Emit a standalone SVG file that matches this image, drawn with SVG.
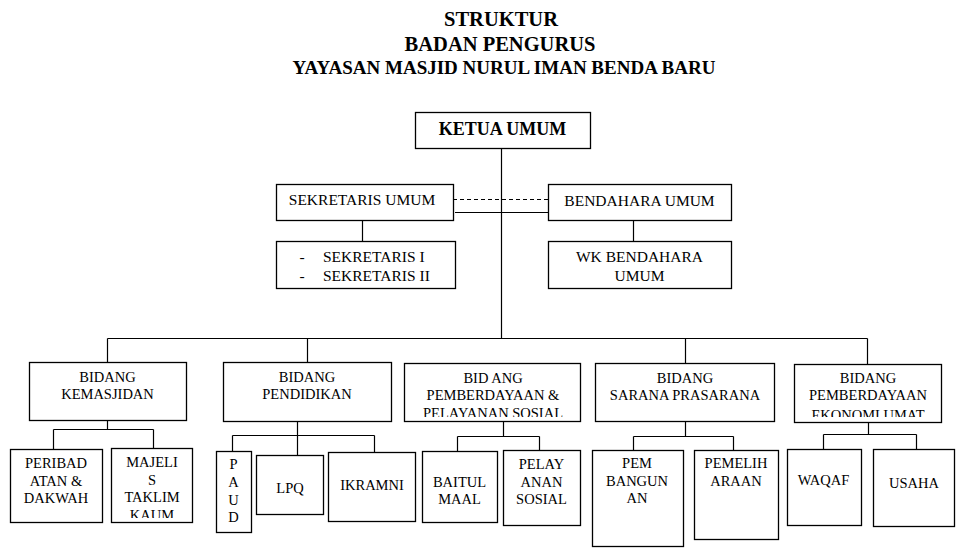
<svg xmlns="http://www.w3.org/2000/svg" width="964" height="553" viewBox="0 0 964 553">
<style>
.box{fill:#fff;stroke:#000;stroke-width:1.3}
.t{font-family:"Liberation Serif","Times New Roman",Times,Tinos,"DejaVu Serif",serif;font-size:14.5px;text-anchor:middle;fill:#000}
.m{font-size:15.5px}
.s{text-anchor:start}
.h{font-family:"Liberation Serif","Times New Roman",Times,Tinos,"DejaVu Serif",serif;font-weight:bold;text-anchor:middle;fill:#000}
.ln{stroke:#000;stroke-width:1.2;fill:none}
.dash{stroke:#000;stroke-width:1;stroke-dasharray:4 3;fill:none}
</style>
<defs>
<clipPath id="c-sos"><rect x="405" y="364" width="174" height="53"/></clipPath>
<clipPath id="c-eko"><rect x="795" y="365" width="145" height="52"/></clipPath>
<clipPath id="c-maj"><rect x="112" y="449" width="79" height="69"/></clipPath>
</defs>
<rect width="964" height="553" fill="#fff"/>
<g id="title">
<text class="h" x="501" y="26" font-size="20.5">STRUKTUR</text>
<text class="h" x="500" y="51" font-size="20.5">BADAN PENGURUS</text>
<text class="h" x="504" y="74" font-size="19">YAYASAN MASJID NURUL IMAN BENDA BARU</text>
</g>
<g id="connectors">
<path class="ln" d="M501.5 148V339M107.5 338.5H867.5M107.5 338.5V362M307.5 338.5V362M685.5 338.5V363M867.5 338.5V364"/>
<path class="dash" d="M453 199.5H548"/>
<path class="ln" d="M455 212.5H548"/>
<path class="ln" d="M362.5 221V241M633.5 221V241"/>
<path class="ln" d="M107.5 420V429.5M53.5 429.5H153.5M53.5 429.5V449M153.5 429.5V448"/>
<path class="ln" d="M297.5 421V455M232.5 435.5H374.5M232.5 435.5V451M374.5 435.5V452"/>
<path class="ln" d="M503.5 421V436.5M457.5 436.5H539.5M457.5 436.5V451M539.5 436.5V450"/>
<path class="ln" d="M685.5 421V436.5M633.5 436.5H733.5M633.5 436.5V450M733.5 436.5V450"/>
<path class="ln" d="M868.5 422V434.5M823.5 434.5H916.5M823.5 434.5V449M916.5 434.5V449"/>
</g>
<g id="ketua">
<rect class="box" x="415.5" y="112.5" width="175" height="36"/>
<text class="h" x="502.5" y="135" font-size="18">KETUA UMUM</text>
</g>
<g id="sekretaris-umum">
<rect class="box" x="276.5" y="184.5" width="177" height="36"/>
<text class="t m" x="362" y="205">SEKRETARIS UMUM</text>
</g>
<g id="bendahara-umum">
<rect class="box" x="548.5" y="184.5" width="183" height="36"/>
<text class="t m" x="639.5" y="206">BENDAHARA UMUM</text>
</g>
<g id="sekretaris">
<rect class="box" x="276.5" y="241.5" width="179" height="47"/>
<text class="t m" x="302" y="262">-</text>
<text class="t m s" x="323" y="262">SEKRETARIS I</text>
<text class="t m" x="302" y="281">-</text>
<text class="t m s" x="323" y="281">SEKRETARIS II</text>
</g>
<g id="wk-bendahara">
<rect class="box" x="548.5" y="241.5" width="183" height="47"/>
<text class="t m" x="639.5" y="262">WK BENDAHARA</text>
<text class="t m" x="639.5" y="281">UMUM</text>
</g>
<g id="kemasjidan">
<rect class="box" x="29.5" y="362.5" width="157" height="58"/>
<text class="t" x="107.5" y="382">BIDANG</text>
<text class="t" x="107.5" y="399">KEMASJIDAN</text>
</g>
<g id="pendidikan">
<rect class="box" x="223.5" y="362.5" width="168" height="59"/>
<text class="t" x="307" y="382">BIDANG</text>
<text class="t" x="307" y="399">PENDIDIKAN</text>
</g>
<g id="sosial">
<rect class="box" x="404.5" y="363.5" width="176" height="58"/>
<g clip-path="url(#c-sos)">
<text class="t" x="493" y="383">BID ANG</text>
<text class="t" x="493" y="400">PEMBERDAYAAN &amp;</text>
<text class="t" x="493" y="418">PELAYANAN SOSIAL</text>
</g>
</g>
<g id="sarana">
<rect class="box" x="595.5" y="363.5" width="179" height="58"/>
<text class="t" x="685" y="383">BIDANG</text>
<text class="t" x="685" y="400">SARANA PRASARANA</text>
</g>
<g id="ekonomi">
<rect class="box" x="794.5" y="364.5" width="147" height="58"/>
<g clip-path="url(#c-eko)">
<text class="t" x="868" y="383">BIDANG</text>
<text class="t" x="868" y="400">PEMBERDAYAAN</text>
<text class="t" x="868" y="420">EKONOMI UMAT</text>
</g>
</g>
<g id="peribadatan">
<rect class="box" x="10.5" y="449.5" width="92" height="73"/>
<text class="t" x="56" y="468">PERIBAD</text>
<text class="t" x="56" y="486">ATAN &amp;</text>
<text class="t" x="56" y="503">DAKWAH</text>
</g>
<g id="majelis">
<rect class="box" x="111.5" y="448.5" width="81" height="74"/>
<g clip-path="url(#c-maj)">
<text class="t" x="152" y="467">MAJELI</text>
<text class="t" x="152" y="485">S</text>
<text class="t" x="152" y="502">TAKLIM</text>
<text class="t" x="152" y="520">KAUM</text>
</g>
</g>
<g id="paud">
<rect class="box" x="216.5" y="451.5" width="35" height="81"/>
<text class="t" x="233.5" y="469">P</text>
<text class="t" x="233.5" y="487">A</text>
<text class="t" x="233.5" y="505">U</text>
<text class="t" x="233.5" y="522">D</text>
</g>
<g id="lpq">
<rect class="box" x="256.5" y="455.5" width="67" height="59"/>
<text class="t" x="290" y="493">LPQ</text>
</g>
<g id="ikramni">
<rect class="box" x="328.5" y="452.5" width="87" height="69"/>
<text class="t" x="372" y="490">IKRAMNI</text>
</g>
<g id="baitul-maal">
<rect class="box" x="422.5" y="451.5" width="75" height="71"/>
<text class="t" x="459.5" y="487">BAITUL</text>
<text class="t" x="459.5" y="504">MAAL</text>
</g>
<g id="pelayanan-sosial">
<rect class="box" x="503.5" y="450.5" width="77" height="75"/>
<text class="t" x="541.5" y="469">PELAY</text>
<text class="t" x="541.5" y="487">ANAN</text>
<text class="t" x="541.5" y="504">SOSIAL</text>
</g>
<g id="pembangunan">
<rect class="box" x="592.5" y="450.5" width="91" height="96"/>
<text class="t" x="637" y="468">PEM</text>
<text class="t" x="637" y="486">BANGUN</text>
<text class="t" x="637" y="503">AN</text>
</g>
<g id="pemeliharaan">
<rect class="box" x="694.5" y="450.5" width="84" height="89"/>
<text class="t" x="736" y="468">PEMELIH</text>
<text class="t" x="736" y="486">ARAAN</text>
</g>
<g id="waqaf">
<rect class="box" x="787.5" y="449.5" width="74" height="76"/>
<text class="t" x="823.5" y="485">WAQAF</text>
</g>
<g id="usaha">
<rect class="box" x="873.5" y="449.5" width="81" height="77"/>
<text class="t" x="914" y="488" font-size="15.5">USAHA</text>
</g>
</svg>
